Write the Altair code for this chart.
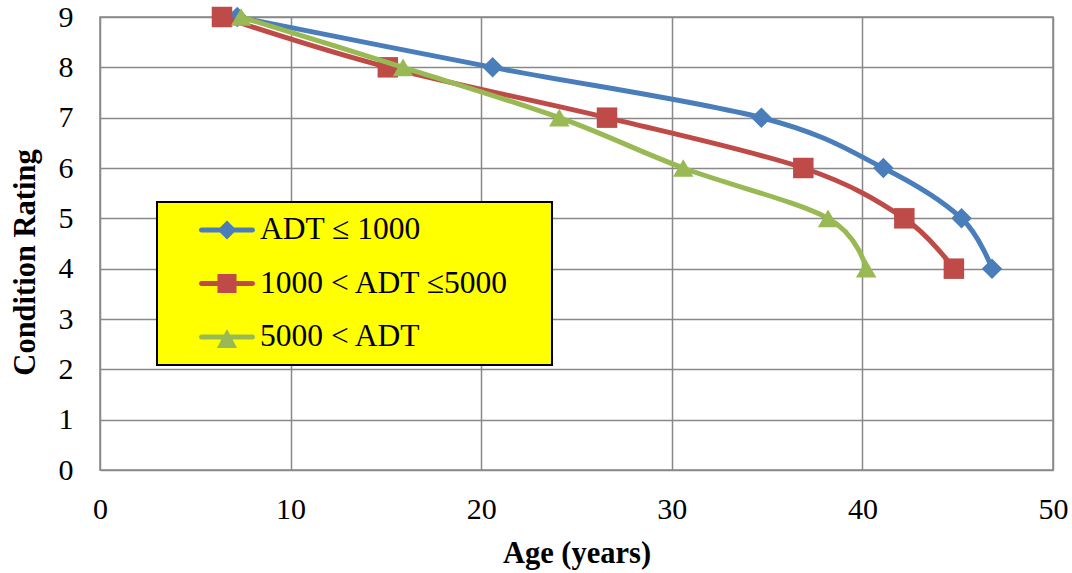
import altair as alt
import pandas as pd

# Deterioration curves: age (years) at which each condition rating is reached
series = ["ADT ≤ 1000", "1000 < ADT ≤5000", "5000 < ADT"]
ratings = [9, 8, 7, 6, 5, 4]
age_low = [7.2, 20.6, 34.7, 41.1, 45.2, 46.8]
age_mid = [6.4, 15.1, 26.6, 36.9, 42.2, 44.8]
age_high = [7.4, 15.9, 24.1, 30.6, 38.2, 40.2]

x_ticks = [0, 10, 20, 30, 40, 50]
y_ticks = [0, 1, 2, 3, 4, 5, 6, 7, 8, 9]

colors = ["#4A7EBB", "#BE4B48", "#98B954"]
shapes = ["diamond", "square", "triangle-up"]

rows = []
for name, ages in zip(series, [age_low, age_mid, age_high]):
    for a, r in zip(ages, ratings):
        rows.append({"series": name, "age": a, "rating": r})
df = pd.DataFrame(rows)

FONT = "Liberation Serif"

# legend swatches: a short rounded line with the series marker on top
# (unit coordinates, scaled by sqrt(symbolSize) / 2)
bar = ("M-0.91,-0.089L0.91,-0.089A0.089,0.089 0 0 1 0.91,0.089"
       "L-0.91,0.089A0.089,0.089 0 0 1 -0.91,-0.089Z")
legend_paths = [
    bar + "M0,-0.34L0.34,0L0,0.34L-0.34,0Z",
    bar + "M-0.34,-0.34L0.34,-0.34L0.34,0.34L-0.34,0.34Z",
    bar + "M0,-0.29L0.36,0.39L-0.36,0.39Z",
]

legend = alt.Legend(
    title=None,
    orient="none",
    legendX=57,
    legendY=185,
    fillColor="#FFFF00",
    strokeColor="#000000",
    padding=11,
    cornerRadius=0,
    clipHeight=34,
    rowPadding=19.5,
    symbolSize=3136,
    symbolStrokeWidth=0,
    symbolFillColor="#000000",
    symbolOffset=31,
    symbolOpacity=1,
    labelOffset=5,
    labelFont=FONT,
    labelFontSize=31.5,
    labelColor="#000000",
    labelLimit=500,
    # blank padding (ending in a non-trimmed blank glyph) gives the box its right margin
    labelExpr="datum.label + '\u00a0\u2800'",
)

x_enc = alt.X(
    "age:Q",
    scale=alt.Scale(domain=[0, 50], nice=False),
    axis=alt.Axis(
        values=x_ticks,
        title="Age (years)",
        titleBaseline="alphabetic",
        titleY=92,
        labelPadding=24,
        labelFlush=False,
    ),
)
y_enc = alt.Y(
    "rating:Q",
    scale=alt.Scale(domain=[0, 9], nice=False),
    axis=alt.Axis(
        values=y_ticks,
        title="Condition Rating",
        titleBaseline="alphabetic",
        titleAngle=-90,
        titleX=-66,
        titleY=245,
        titleAlign="center",
        labelPadding=27,
        labelFlush=False,
    ),
)

# each series: smoothed line, then its markers on top
series_layers = []
for name, color, shape in zip(series, colors, shapes):
    base = alt.Chart(df).transform_filter(alt.datum.series == name)
    series_layers.append(
        base.mark_line(interpolate="cardinal", strokeWidth=5, color=color).encode(x=x_enc, y=y_enc)
    )
    series_layers.append(
        base.mark_point(
            filled=True, size=420, opacity=1, strokeWidth=0, shape=shape, color=color
        ).encode(x=x_enc, y=y_enc)
    )

# legend-only layer: no rows survive the filter, the legend comes from the scale domains
key = (
    alt.Chart(df)
    .transform_filter("datum.age < 0")
    .mark_point(filled=True, opacity=1, strokeWidth=0)
    .encode(
        x=x_enc,
        y=y_enc,
        color=alt.Color("series:N", scale=alt.Scale(domain=series, range=colors), legend=legend),
        shape=alt.Shape(
            "series:N",
            scale=alt.Scale(domain=series, range=legend_paths),
            legend=legend,
        ),
    )
)

chart = (
    alt.layer(*series_layers, key)
    .properties(
        width=953,
        height=453,
        autosize=alt.AutoSizeParams(type="none"),
        padding={"left": 100, "top": 17, "right": 19, "bottom": 103},
    )
    .configure_view(stroke="#898989", strokeWidth=1.5)
    .configure_legend(strokeWidth=2)
    .configure_axis(
        domain=False,
        ticks=False,
        tickSize=0,
        grid=True,
        gridColor="#898989",
        gridWidth=1.5,
        labelFont=FONT,
        labelFontSize=30,
        labelColor="#000000",
        titleFont=FONT,
        titleFontSize=30.5,
        titleFontWeight="bold",
        titleColor="#000000",
    )
)

chart.save("out.html", embed_options={"renderer": "svg", "actions": False})
